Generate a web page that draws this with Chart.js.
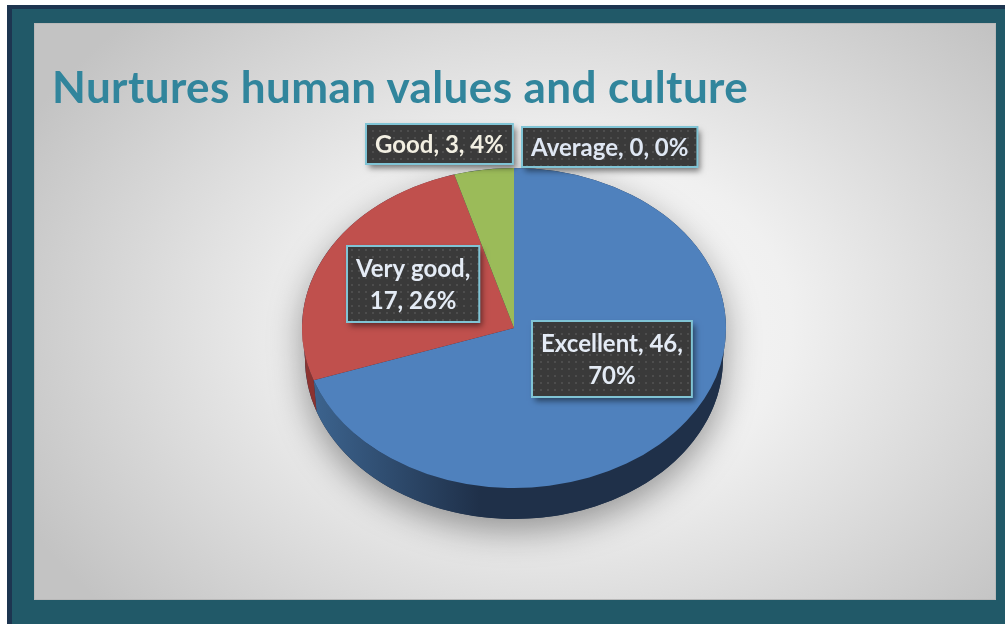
<!DOCTYPE html>
<html>
<head>
<meta charset="utf-8">
<script src="https://cdn.jsdelivr.net/npm/chart.js@4.4.1/dist/chart.umd.min.js"></script>
<style>
  html, body { margin: 0; padding: 0; width: 1005px; height: 624px; overflow: hidden; background: #ffffff; }
  #frame {
    position: absolute; left: 7px; top: 5px; right: 0; bottom: 0;
    background: #215968;
    border-left: 5px solid #1d3550; border-top: 4px solid #1d3550;
  }
  #panel {
    position: absolute; left: 34px; top: 23px; width: 962px; height: 577px;
    box-sizing: border-box; border: 1px solid #b9b9b9;
    background: radial-gradient(ellipse 62% 75% at 54% 52%, #f9f9f9 0%, #f0f0f0 40%, #c3c3c3 100%);
  }
  #chart { position: absolute; left: 34px; top: 23px; }
  #title {
    position: absolute; left: 52px; top: 61px; margin: 0;
    font-family: Lato, "Open Sans", sans-serif; font-weight: 700; font-size: 44px;
    letter-spacing: 0.4px;
    color: #31859c; white-space: nowrap; line-height: 50px;
  }
</style>
</head>
<body>
<div id="frame"></div>
<div id="panel"></div>
<canvas id="chart" width="962" height="577"></canvas>
<h1 id="title">Nurtures human values and culture</h1>
<script>
// Survey answers
const categories = ['Excellent', 'Very good', 'Good', 'Average'];
const responses = [46, 17, 3, 0];
const sharePct = [70, 26, 4, 0];

// Slice styling
const sliceColors = ['#4f81bd', '#c0504d', '#9bbb59', '#8064a2'];
const sideLight = ['#3e6793', '#8e3431', '#6f8a3a', '#5b4676'];
const sideDark = ['#1f3049', '#5a1f1d', '#465a24', '#3a2c4d'];
const labelText = ['#e4ebf5', '#e4ebf5', '#f2efe2', '#dfe7f3'];

// Label anchors: fraction of radius and angular nudge (degrees) from slice middle
const labelPlacement = [
  { r: 0.50, turn: -12.6, wrap: 147 },
  { r: 0.55, turn: 2.8, wrap: 147 },
  { r: 1.20, turn: -8.8, wrap: Infinity },
  { r: 1.22, turn: 21.8, wrap: Infinity }
];

const tilt = 160 / 212;   // vertical squash of the pie top
const depth = 31;         // thickness of the pie wall
const baseInset = 3;      // the base ellipse is a touch narrower than the top

// dotted fill used for the label boxes
const dotTile = document.createElement('canvas');
dotTile.width = 7; dotTile.height = 7;
(function () {
  const t = dotTile.getContext('2d');
  t.fillStyle = '#3a3a3a'; t.fillRect(0, 0, 7, 7);
  t.fillStyle = '#4d4d4d'; t.fillRect(2, 2, 2, 2);
})();

function visibleRanges(s, e) {
  const out = [];
  for (let k = -1; k <= 1; k++) {
    const a = Math.max(s, 2 * Math.PI * k);
    const b = Math.min(e, 2 * Math.PI * k + Math.PI);
    if (b > a) out.push([a, b]);
  }
  return out;
}

const pie3d = {
  id: 'pie3d',
  beforeDatasetsDraw(chart) {
    const ctx = chart.ctx;
    const arcs = chart.getDatasetMeta(0).data;
    const cx = arcs[0].x, cy = arcs[0].y, R = arcs[0].outerRadius;
    const ry = R * tilt;
    const rb = R - baseInset;

    // soft shadow under the whole disc
    ctx.save();
    ctx.shadowColor = 'rgba(0,0,0,0.38)';
    ctx.shadowBlur = 34;
    ctx.shadowOffsetY = 12;
    ctx.beginPath();
    ctx.ellipse(cx, cy + depth, rb, ry, 0, 0, Math.PI);
    ctx.lineTo(cx - R, cy);
    ctx.ellipse(cx, cy, R, ry, 0, Math.PI, 2 * Math.PI);
    ctx.closePath();
    ctx.fillStyle = '#1f3049';
    ctx.fill();
    ctx.restore();

    // outer walls of each slice
    arcs.forEach((arc, i) => {
      if (arc.endAngle - arc.startAngle <= 0) return;
      const g = ctx.createLinearGradient(cx - R, 0, cx + R, 0);
      g.addColorStop(0, sideLight[i]);
      g.addColorStop(0.42, sideDark[i]);
      g.addColorStop(1, sideDark[i]);
      visibleRanges(arc.startAngle, arc.endAngle).forEach(([a, b]) => {
        ctx.beginPath();
        ctx.ellipse(cx, cy, R, ry, 0, a, b);
        ctx.lineTo(cx + rb * Math.cos(b), cy + depth + ry * Math.sin(b));
        ctx.ellipse(cx, cy + depth, rb, ry, 0, b, a, true);
        ctx.closePath();
        ctx.fillStyle = g;
        ctx.fill();
      });
    });

    // squash the flat top into an ellipse
    ctx.save();
    ctx.translate(cx, cy);
    ctx.scale(1, tilt);
    ctx.translate(-cx, -cy);
  },
  afterDatasetsDraw(chart) {
    const ctx = chart.ctx;
    ctx.restore();

    const arcs = chart.getDatasetMeta(0).data;
    const cx = arcs[0].x, cy = arcs[0].y, R = arcs[0].outerRadius;
    const fontSize = 24, lineH = 32, padX = 9, padY = 4;
    ctx.save();
    ctx.font = `700 ${fontSize}px Lato, "Open Sans", sans-serif`;
    arcs.forEach((arc, i) => {
      const place = labelPlacement[i];
      const text = `${categories[i]}, ${responses[i]}, ${sharePct[i]}%`;
      // greedy word wrap
      const words = text.split(' ');
      const lines = [];
      let cur = '';
      words.forEach(w => {
        const trial = cur ? cur + ' ' + w : w;
        if (cur && ctx.measureText(trial).width > place.wrap) { lines.push(cur); cur = w; }
        else cur = trial;
      });
      if (cur) lines.push(cur);
      const w = Math.max(...lines.map(l => ctx.measureText(l).width)) + padX * 2;
      const h = lines.length * lineH + padY * 2 + (lines.length > 1 ? 4 : 0);
      const mid = (arc.startAngle + arc.endAngle) / 2 + place.turn * Math.PI / 180;
      const px = cx + place.r * R * Math.cos(mid);
      const py = cy + place.r * R * tilt * Math.sin(mid);
      const x0 = Math.round(px - w / 2), y0 = Math.round(py - h / 2);

      ctx.save();
      ctx.shadowColor = 'rgba(0,0,0,0.5)';
      ctx.shadowBlur = 6;
      ctx.shadowOffsetX = 3;
      ctx.shadowOffsetY = 4;
      ctx.fillStyle = '#3a3a3a';
      ctx.fillRect(x0, y0, w, h);
      ctx.restore();
      ctx.fillStyle = ctx.createPattern(dotTile, 'repeat');
      ctx.fillRect(x0, y0, w, h);
      ctx.strokeStyle = '#80c4d5';
      ctx.lineWidth = 2;
      ctx.strokeRect(x0, y0, w, h);

      ctx.fillStyle = labelText[i];
      ctx.textAlign = 'center';
      ctx.textBaseline = 'middle';
      const top = y0 + (h - lines.length * lineH) / 2;
      lines.forEach((l, j) => {
        ctx.fillText(l, x0 + w / 2, top + lineH * (j + 0.5) + 1);
      });
    });
    ctx.restore();
  }
};

new Chart(document.getElementById('chart'), {
  type: 'pie',
  data: {
    labels: categories,
    datasets: [{
      data: responses,
      backgroundColor: sliceColors,
      borderWidth: 0,
      clip: false
    }]
  },
  options: {
    responsive: false,
    animation: false,
    layout: { padding: { left: 268, right: 270, top: 93, bottom: 60 } },
    plugins: {
      legend: { display: false },
      tooltip: { enabled: false },
      title: { display: false }
    }
  },
  plugins: [pie3d]
});
</script>
</body>
</html>
